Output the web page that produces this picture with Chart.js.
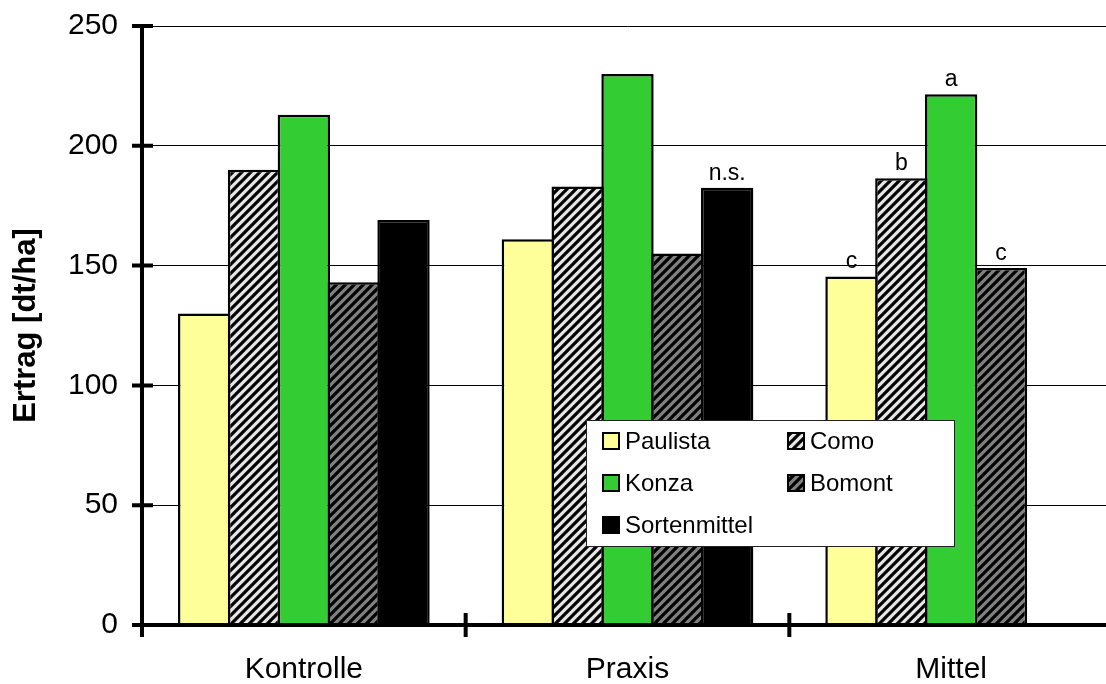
<!DOCTYPE html>
<html>
<head>
<meta charset="utf-8">
<script src="https://cdn.jsdelivr.net/npm/chart.js@4.4.1/dist/chart.umd.min.js"></script>
<style>
  html, body { margin: 0; padding: 0; background: #fff; overflow: hidden; }
  #wrap { width: 1106px; height: 684px; overflow: hidden; }
  canvas { display: block; }
</style>
</head>
<body>
<div id="wrap"><canvas id="chart" width="1113" height="684"></canvas></div>
<script>
// Ertrag je Sorte und Variante
const categories = ['Kontrolle', 'Praxis', 'Mittel'];
const paulista = [130, 161, 145.5];
const como = [190, 183, 186.5];
const konza = [213, 230, 221.5];
const bomont = [143, 155, 149];
const sortenmittel = [169, 182.5, null];

// Signifikanzbuchstaben über den Säulen
const paulistaMarks = ['', '', 'c'];
const comoMarks = ['', '', 'b'];
const konzaMarks = ['', '', 'a'];
const bomontMarks = ['', '', 'c'];
const sortenmittelMarks = ['', 'n.s.', ''];

const yTickValues = [0, 50, 100, 150, 200, 250];

const FONT = "'Liberation Sans', Arial, Helvetica, sans-serif";
const canvas = document.getElementById('chart');
const ctx = canvas.getContext('2d');

function stripes(bg, size, width) {
  const t = document.createElement('canvas');
  t.width = size; t.height = size;
  const c = t.getContext('2d');
  c.fillStyle = bg;
  c.fillRect(0, 0, size, size);
  c.strokeStyle = '#000';
  c.lineWidth = width;
  c.beginPath();
  c.moveTo(0, size); c.lineTo(size, 0);
  c.moveTo(-size / 2, size / 2); c.lineTo(size / 2, -size / 2);
  c.moveTo(size / 2, size * 1.5); c.lineTo(size * 1.5, size / 2);
  c.stroke();
  return ctx.createPattern(t, 'repeat');
}

const comoFill = stripes('#e6e6e6', 9, 3.2);
const bomontFill = stripes('#808080', 9, 3.2);

const series = [
  { label: 'Paulista', data: paulista, marks: paulistaMarks, fill: '#ffff99' },
  { label: 'Como', data: como, marks: comoMarks, fill: comoFill },
  { label: 'Konza', data: konza, marks: konzaMarks, fill: '#33cc33' },
  { label: 'Bomont', data: bomont, marks: bomontMarks, fill: bomontFill },
  { label: 'Sortenmittel', data: sortenmittel, marks: sortenmittelMarks, fill: '#000000' }
];

const overlay = {
  id: 'overlay',
  afterDatasetsDraw(chart) {
    const c = chart.ctx;
    const area = chart.chartArea;
    const x = chart.scales.x;
    const y = chart.scales.y;
    c.save();

    // letters above bars
    c.fillStyle = '#000';
    c.font = '23px ' + FONT;
    c.textAlign = 'center';
    c.textBaseline = 'alphabetic';
    chart.data.datasets.forEach((ds, di) => {
      const meta = chart.getDatasetMeta(di);
      meta.data.forEach((bar, i) => {
        const txt = series[di].marks[i];
        if (txt && ds.data[i] != null) c.fillText(txt, bar.x, bar.y - 8);
      });
    });

    // axes
    c.strokeStyle = '#000';
    c.lineCap = 'butt';
    c.lineWidth = 4;
    const y0 = y.getPixelForValue(0);
    const yTop = y.getPixelForValue(250);
    c.beginPath();
    c.moveTo(area.left, yTop - 2);
    c.lineTo(area.left, y0 + 12);
    c.moveTo(area.left, y0);
    c.lineTo(area.right + 2, y0);
    c.stroke();

    // y ticks crossing the axis
    c.beginPath();
    yTickValues.forEach(v => {
      const py = y.getPixelForValue(v);
      c.moveTo(area.left - 10, py);
      c.lineTo(area.left + 11, py);
    });
    // category separators on the x axis
    for (let i = 0; i < categories.length - 1; i++) {
      const px = (x.getPixelForTick(i) + x.getPixelForTick(i + 1)) / 2;
      c.moveTo(px, y0 - 12);
      c.lineTo(px, y0 + 12);
    }
    c.stroke();

    // legend
    const lx = 586.5, ly = 420.5, lw = 368, lh = 126;
    c.fillStyle = '#fff';
    c.fillRect(lx, ly, lw, lh);
    c.lineWidth = 1;
    c.strokeStyle = '#222';
    c.strokeRect(lx, ly, lw, lh);
    c.font = '24px ' + FONT;
    c.textAlign = 'left';
    c.textBaseline = 'middle';
    chart.data.datasets.forEach((ds, di) => {
      const col = di % 2, row = Math.floor(di / 2);
      const mx = 603 + col * 185;
      const my = 441 + row * 42;
      c.fillStyle = ds.backgroundColor;
      c.fillRect(mx, my - 8, 16, 16);
      c.lineWidth = 2;
      c.strokeStyle = '#000';
      c.strokeRect(mx, my - 8, 16, 16);
      c.fillStyle = '#000';
      c.fillText(ds.label, mx + 22, my + 1);
    });
    c.restore();
  }
};

new Chart(ctx, {
  type: 'bar',
  data: {
    labels: categories,
    datasets: series.map(s => ({
      label: s.label,
      data: s.data,
      backgroundColor: s.fill,
      borderColor: '#000',
      borderWidth: 2.5,
      borderSkipped: 'start',
      categoryPercentage: 0.77,
      barPercentage: 1.05
    }))
  },
  options: {
    responsive: false,
    animation: false,
    devicePixelRatio: 1,
    layout: { padding: { top: 26, right: 0, bottom: 0, left: 0 } },
    plugins: {
      legend: { display: false },
      tooltip: { enabled: false }
    },
    scales: {
      x: {
        grid: { display: false, drawTicks: false },
        border: { display: false },
        ticks: { color: '#000', font: { family: FONT, size: 30 }, padding: 27, maxRotation: 0 },
        afterFit(scale) {
          scale.height = 59;
          scale.paddingLeft = 0;
          scale.paddingRight = 0;
        }
      },
      y: {
        min: 0,
        max: 250,
        grid: { color: '#000', lineWidth: 1, drawTicks: false },
        border: { display: false },
        ticks: {
          stepSize: 50,
          color: '#000',
          font: { family: FONT, size: 30 },
          padding: 24
        },
        title: {
          display: true,
          text: 'Ertrag [dt/ha]',
          color: '#000',
          font: { family: FONT, size: 31, weight: 'bold' },
          padding: { top: 8, bottom: 0 }
        },
        afterFit(scale) {
          scale.width = 142;
          scale.paddingTop = 0;
          scale.paddingBottom = 0;
        }
      }
    }
  },
  plugins: [overlay]
});
</script>
</body>
</html>
